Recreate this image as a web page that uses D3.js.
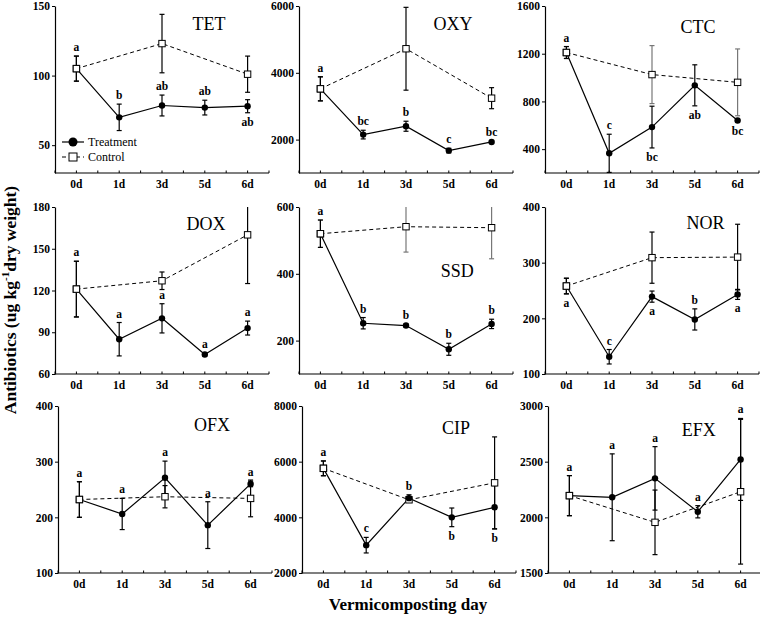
<!DOCTYPE html>
<html><head><meta charset="utf-8">
<script src="https://cdn.jsdelivr.net/npm/d3@7"></script>
<style>
body{margin:0;background:#fff;}
text{font-family:"Liberation Serif","Times New Roman",serif;}
</style></head>
<body><svg id="c" width="760" height="617"></svg>
<script>
const days = ["0d","1d","3d","5d","6d"];
const panelNames = ["TET","OXY","CTC","DOX","SSD","NOR","OFX","CIP","EFX"];
const yDomains = [[30,150],[1000,6000],[200,1600],[60,180],[100,600],[100,400],[100,400],[2000,8000],[1500,3000]];
const yTicks = [[50,100,150],[2000,4000,6000],[400,800,1200,1600],[60,90,120,150,180],[200,400,600],[100,200,300,400],[100,200,300,400],[2000,4000,6000,8000],[1500,2000,2500,3000]];

const treatment = [
  [105, 70, 78.5, 77, 78],
  [3520, 2150, 2400, 1670, 1930],
  [1210, 365, 585, 935, 640],
  [121, 85, 100, 74, 93],
  [520, 252, 245, 174, 250],
  [258, 131, 239, 198, 243],
  [232, 206, 271, 186, 260],
  [5760, 3000, 4690, 4000, 4360],
  [2195, 2180, 2350, 2050, 2520]
];
const treatmentErr = [
  [9, 9.5, 7.5, 5.3, 4.7],
  [360, 130, 150, 70, 30],
  [50, 160, 175, 172, 10],
  [20, 12, 10.5, 1, 5],
  [41, 17, 4, 18, 14],
  [14, 13, 10, 19, 9],
  [32, 28, 30, 42, 5],
  [265, 280, 120, 335, 780],
  [180, 390, 285, 55, 368]
];
const control = [
  [105, null, 123, null, 101],
  [3520, null, 4720, null, 3240],
  [1210, null, 1025, null, 960],
  [121, null, 127, null, 160],
  [520, null, 541, null, 538],
  [258, null, 309, null, 310],
  [232, null, 237, null, 234],
  [5760, null, 4630, null, 5240],
  [2195, null, 1955, null, 2230]
];
const controlErr = [
  [9, null, 21, null, 13],
  [360, null, 1240, null, 315],
  [50, null, 243, null, 280],
  [20, null, 6.3, null, 35],
  [41, null, 76, null, 93],
  [14, null, 46, null, 59],
  [32, null, 20, null, 33],
  [265, null, 90, null, 1650],
  [180, null, 290, null, 650]
];
const letters = [
  ["a","b","ab","ab","ab"],
  ["a","bc","b","c","bc"],
  ["a","c","bc","ab","bc"],
  ["a","a","a","a","a"],
  ["a","b","b","b","b"],
  ["a","c","a","b","a"],
  ["a","a","a","a","a"],
  ["a","c","b","b","b"],
  ["a","a","a","a","a"]
];
const letterSide = [
  ["up","up","up","up","down"],
  ["up","up","up","up","up"],
  ["up","up","down","down","down"],
  ["up","up","up","up","up"],
  ["up","up","up","up","up"],
  ["down","up","down","up","down"],
  ["up","up","up","up","up"],
  ["up","up","up","down","down"],
  ["up","up","up","up","up"]
];
const seriesNames = ["Treatment","Control"];

// layout (not data)
const colX = [55, 299, 545];
const rowY = [6, 207, 406];
const rowShift = [0, 0, 3];
const W = 214, H = 167;
const titlePos = [[0.72,0.145],[0.72,0.145],[0.715,0.16],[0.706,0.14],[0.74,0.42],[0.75,0.13],[0.72,0.15],[0.72,0.17],[0.705,0.18]];
const ctrlErrColor = ["#000","#000","#777","#000","#777","#000","#000","#000","#000"];

const svg = d3.select("#c");

panelNames.forEach((name, p) => {
  const r = Math.floor(p/3), c = p%3;
  const g = svg.append("g").attr("transform", `translate(${colX[c]+rowShift[r]},${rowY[r]})`);
  const x = d3.scalePoint().domain(days).range([0, W]).padding(0.5);
  const y = d3.scaleLinear().domain(yDomains[p]).range([H, 0]).clamp(true);

  // y axis
  const ya = g.append("g").call(d3.axisLeft(y).tickValues(yTicks[p]).tickFormat(d3.format("d")).tickSize(3).tickSizeOuter(0).tickPadding(2));
  ya.attr("font-family", null).attr("font-size", null);
  ya.select(".domain").attr("stroke-width", 1.2);
  ya.selectAll("text").attr("font-size", 11.5).attr("font-weight", "bold").attr("fill", "#000");

  // x axis
  const xg = g.append("g").attr("transform", `translate(0,${H})`);
  xg.append("line").attr("x1", 0).attr("x2", W).attr("stroke", "#000").attr("stroke-width", 1.2);
  const step = x.step();
  const minor = d3.range(-0.5, 4.51, 0.5).map(k => x(days[0]) + k*step);
  xg.selectAll(".mt").data(minor).join("line").attr("x1", d=>d).attr("x2", d=>d)
    .attr("y1", 0).attr("y2", -2.5).attr("stroke", "#000");
  xg.selectAll(".lab").data(days).join("text").attr("x", d=>x(d)).attr("y", 15)
    .attr("text-anchor", "middle").attr("font-size", 11.5).attr("font-weight", "bold").text(d=>d);

  // title
  g.append("text").attr("x", titlePos[p][0]*W).attr("y", titlePos[p][1]*H)
    .attr("text-anchor", "middle").attr("font-size", 18).text(name);

  const tPts = days.map((d,i)=>({d, v: treatment[p][i], e: treatmentErr[p][i]}));
  const cPts = days.map((d,i)=>({d, v: control[p][i], e: controlErr[p][i]})).filter(o=>o.v!==null);

  const line = d3.line().x(o=>x(o.d)).y(o=>y(o.v));

  // control
  g.append("path").attr("d", line(cPts)).attr("fill","none").attr("stroke","#000")
    .attr("stroke-width",1).attr("stroke-dasharray","4,3");
  const drawErr = (pts, col) => {
    pts.forEach(o => {
      const x0 = x(o.d), yt = y(o.v+o.e), yb = y(o.v-o.e);
      g.append("line").attr("x1",x0).attr("x2",x0).attr("y1",yt).attr("y2",yb).attr("stroke",col).attr("stroke-width",1.2);
      [o.v+o.e, o.v-o.e].forEach(vv => {
        const dom = yDomains[p];
        if (vv > dom[1] || vv < dom[0]) return;
        g.append("line").attr("x1",x0-2.5).attr("x2",x0+2.5).attr("y1",y(vv)).attr("y2",y(vv)).attr("stroke",col).attr("stroke-width",1.2);
      });
    });
  };
  drawErr(cPts, ctrlErrColor[p]);
  drawErr(tPts, "#000");
  g.append("path").attr("d", line(tPts)).attr("fill","none").attr("stroke","#000").attr("stroke-width",1.2);
  g.selectAll(".cm").data(cPts).join("rect").attr("x",o=>x(o.d)-3.2).attr("y",o=>y(o.v)-3.2)
    .attr("width",6.4).attr("height",6.4).attr("fill","#fff").attr("stroke","#000").attr("stroke-width",1);
  g.selectAll(".tm").data(tPts).join("circle").attr("cx",o=>x(o.d)).attr("cy",o=>y(o.v)).attr("r",3.2).attr("fill","#000");
  g.selectAll(".cm2").data(cPts.filter(o=>o.d==="0d")).join("rect").attr("x",o=>x(o.d)-3.2).attr("y",o=>y(o.v)-3.2)
    .attr("width",6.4).attr("height",6.4).attr("fill","#fff").attr("stroke","#000").attr("stroke-width",1);

  // significance letters (placed relative to the treatment error bar)
  days.forEach((d,i) => {
    const top = treatment[p][i] + treatmentErr[p][i];
    const bot = treatment[p][i] - treatmentErr[p][i];
    const up = letterSide[p][i] === "up";
    const yy = up ? y(top) - 5 : y(bot) + 13;
    g.append("text").attr("x", x(d)).attr("y", yy).attr("text-anchor","middle")
      .attr("font-size", 11.5).attr("font-weight","bold").text(letters[p][i]);
  });

  if (p === 0) {
    const lg = g.append("g");
    lg.append("line").attr("x1",7).attr("x2",29).attr("y1",136).attr("y2",136).attr("stroke","#000").attr("stroke-width",1.2);
    lg.append("circle").attr("cx",18).attr("cy",136).attr("r",4.5).attr("fill","#000");
    lg.append("text").attr("x",33).attr("y",140).attr("font-size",12).text(seriesNames[0]);
    lg.append("line").attr("x1",7).attr("x2",29).attr("y1",151).attr("y2",151).attr("stroke","#000").attr("stroke-width",1).attr("stroke-dasharray","4,3");
    lg.append("rect").attr("x",14).attr("y",147).attr("width",8).attr("height",8).attr("fill","#fff").attr("stroke","#000");
    lg.append("text").attr("x",33).attr("y",155).attr("font-size",12).text(seriesNames[1]);
  }
});

// axis titles
svg.append("text").attr("transform","translate(16,300) rotate(-90)").attr("text-anchor","middle")
  .attr("font-size",17.5).attr("font-weight","bold")
  .html('Antibiotics (ug kg<tspan dy="-7" font-size="11">-1</tspan><tspan dy="7">dry weight)</tspan>');
svg.append("text").attr("x",408).attr("y",610).attr("text-anchor","middle")
  .attr("font-size",17).attr("font-weight","bold").text("Vermicomposting day");
</script></body></html>
